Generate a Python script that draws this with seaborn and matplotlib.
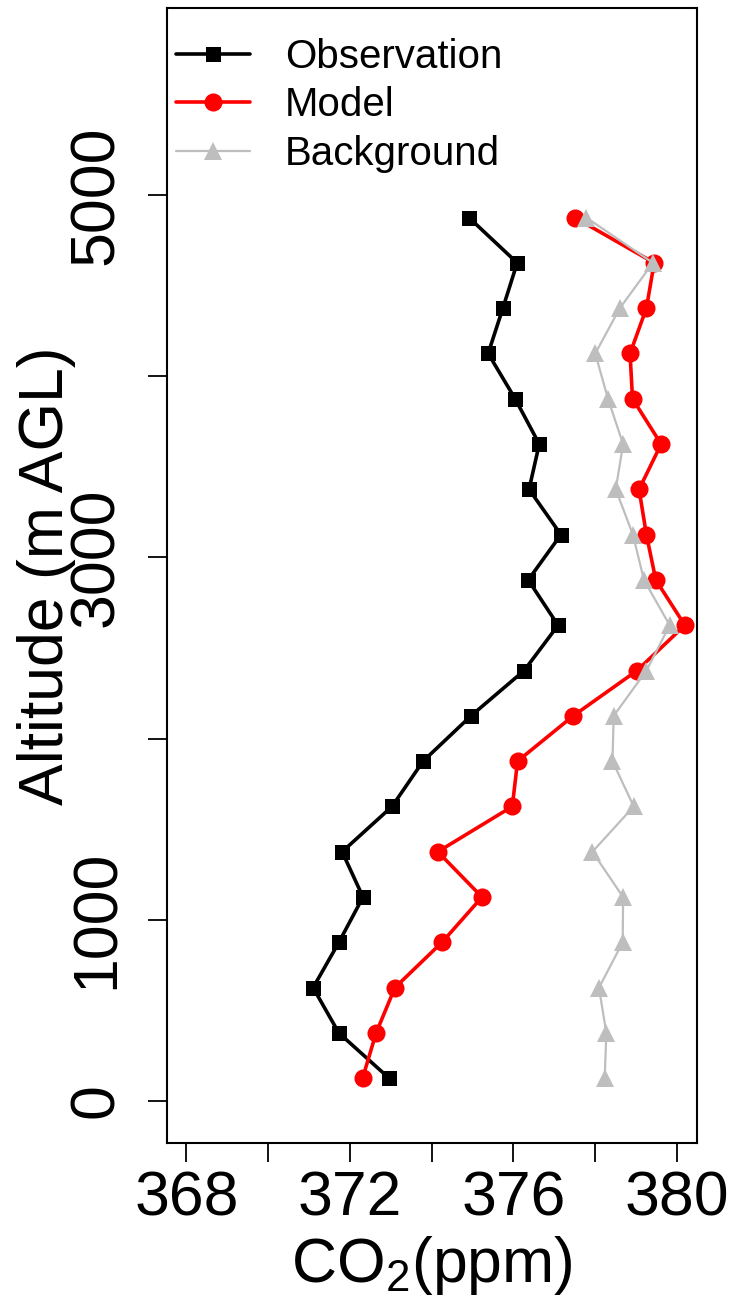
import matplotlib
matplotlib.use("Agg")
import matplotlib.pyplot as plt
import seaborn as sns

# ---------------- data ----------------
altitude = [125, 375, 625, 875, 1125, 1375, 1625, 1875, 2125, 2375,
            2625, 2875, 3125, 3375, 3625, 3875, 4125, 4375, 4625, 4875]
observation = [372.96, 371.73, 371.10, 371.73, 372.32, 371.81, 373.03, 373.79, 374.96, 376.26,
               377.09, 376.36, 377.16, 376.38, 376.63, 376.04, 375.38, 375.74, 376.09, 374.91]
model = [372.31, 372.64, 373.10, 374.25, 375.23, 374.15, 375.97, 376.10, 377.46, 379.02,
         380.19, 379.48, 379.25, 379.07, 379.61, 378.91, 378.85, 379.25, 379.44, 377.50]
background = [378.23, 378.27, 378.09, 378.67, 378.68, 377.93, 378.94, 378.42, 378.45, 379.25,
              379.82, 379.19, 378.92, 378.50, 378.68, 378.31, 378.00, 378.60, 379.41, 377.78]
series_names = ["Observation", "Model", "Background"]
x_ticks = [368, 370, 372, 374, 376, 378, 380]
x_tick_labels = ["368", "", "372", "", "376", "", "380"]
y_ticks = [0, 1000, 2000, 3000, 4000, 5000]
y_tick_labels = ["0", "1000", "", "3000", "", "5000"]

# ---------------- style ----------------
sns.set_theme(style="white")
plt.rcParams["font.family"] = ["Liberation Sans", "DejaVu Sans"]
plt.rcParams["text.color"] = "black"
plt.rcParams["axes.labelcolor"] = "black"
plt.rcParams["mathtext.fontset"] = "custom"
plt.rcParams["mathtext.rm"] = "Liberation Sans"
plt.rcParams["mathtext.it"] = "Liberation Sans:italic"
plt.rcParams["mathtext.bf"] = "Liberation Sans:bold"

fig = plt.figure(figsize=(7.33, 13), dpi=100)
ax = fig.add_axes([0.2274, 0.1208, 0.7231, 0.8731])

styles = [
    dict(color="black", marker="s", markersize=10.8, linewidth=2.6),
    dict(color="#FF0000", marker="o", markersize=13, linewidth=2.6),
    dict(color="#BEBEBE", marker="^", markersize=12.5, linewidth=1.6),
]
for vals, name, st in zip([observation, model, background], series_names, styles):
    sns.lineplot(x=vals, y=altitude, orient="y", sort=False, estimator=None,
                 ax=ax, label=name, color=st["color"], marker=st["marker"],
                 markersize=st["markersize"], linewidth=st["linewidth"],
                 markeredgewidth=0, markeredgecolor=st["color"])

ax.set_xlim(367.52, 380.48)
ax.set_ylim(-232, 6032)
ax.set_xticks(x_ticks)
ax.set_xticklabels(x_tick_labels)
ax.set_yticks(y_ticks)
ax.set_yticklabels(y_tick_labels, rotation=90, va="center")

ax.tick_params(axis="both", which="major", direction="out", length=14, width=1.3,
               color="black", labelsize=45, labelcolor="black",
               bottom=True, left=True, top=False, right=False)
ax.tick_params(axis="x", pad=5)
ax.tick_params(axis="y", pad=15)

for sp in ax.spines.values():
    sp.set_visible(True)
    sp.set_color("black")
    sp.set_linewidth(1.5)

ax.set_xlabel(r"CO$_2$(ppm)", fontsize=45, color="black")
ax.set_ylabel("Altitude (m AGL)", fontsize=45, color="black")
ax.xaxis.set_label_coords(0.5, -0.080)
ax.yaxis.set_label_coords(-0.172, 0.5)

leg = ax.legend(loc="upper left", bbox_to_anchor=(0.0175, 0.9735), frameon=False,
                fontsize=29, handlelength=1.85, handletextpad=0.85, labelspacing=0.26,
                borderpad=0, borderaxespad=0)
for t in leg.get_texts():
    t.set_color("black")

ax.grid(False)
fig.savefig("out.png", dpi=100)
